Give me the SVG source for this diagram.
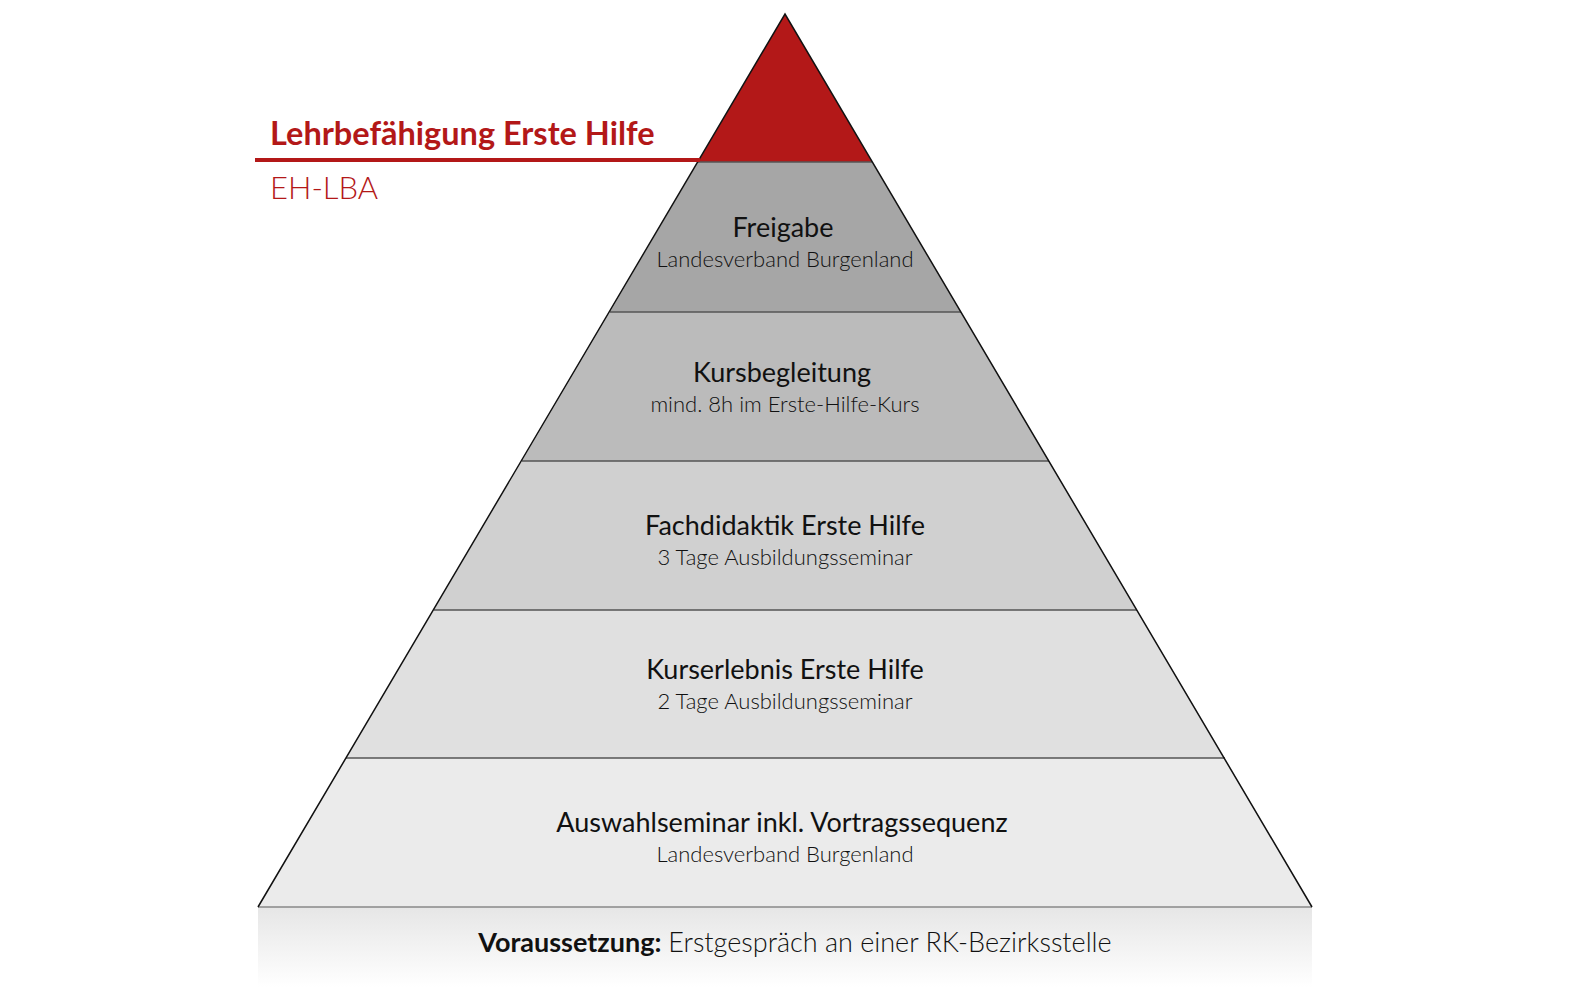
<svg xmlns="http://www.w3.org/2000/svg" width="1580" height="1000" viewBox="0 0 1580 1000">
<defs>
<linearGradient id="fade" x1="0" y1="0" x2="0" y2="1">
<stop offset="0" stop-color="#e6e6e6"/>
<stop offset="1" stop-color="#ffffff"/>
</linearGradient>
<style>
.lvl{stroke:none}
.div{stroke:#555;stroke-width:1.5}
.t{font-family:Lato,"Open Sans","Liberation Sans",sans-serif;font-size:27px;fill:#111;text-anchor:middle}
.s{font-family:Lato,"Open Sans","Liberation Sans",sans-serif;font-size:22px;fill:#111;text-anchor:middle;font-weight:300}
.f{font-family:Lato,"Open Sans","Liberation Sans",sans-serif;font-size:27px;fill:#111;text-anchor:middle}
.red{fill:#b31818}
</style>
</defs>
<rect width="1580" height="1000" fill="#fff"/>
<rect x="258" y="907" width="1054" height="80" fill="url(#fade)"/>
<g id="level-top"><polygon class="lvl" points="785,14 698,162 872,162" fill="#b31818"/></g>
<g id="level-freigabe"><polygon class="lvl" points="698,162 872,162 961,312 610,312" fill="#a6a6a6"/>
<text class="t" x="783" y="237">Freigabe</text><text class="s" x="785" y="267">Landesverband Burgenland</text></g>
<g id="level-kursbegleitung"><polygon class="lvl" points="610,312 961,312 1049,461 522,461" fill="#bbbbbb"/>
<text class="t" x="782" y="382">Kursbegleitung</text><text class="s" x="785" y="412">mind. 8h im Erste-Hilfe-Kurs</text></g>
<g id="level-fachdidaktik"><polygon class="lvl" points="522,461 1049,461 1137,610 434,610" fill="#d0d0d0"/>
<text class="t" x="785" y="535">Fachdidaktik Erste Hilfe</text><text class="s" x="785" y="565">3 Tage Ausbildungsseminar</text></g>
<g id="level-kurserlebnis"><polygon class="lvl" points="434,610 1137,610 1225,758 346,758" fill="#e0e0e0"/>
<text class="t" x="785" y="679">Kurserlebnis Erste Hilfe</text><text class="s" x="785" y="709">2 Tage Ausbildungsseminar</text></g>
<g id="level-auswahl"><polygon class="lvl" points="346,758 1225,758 1312,907 258,907" fill="#ebebeb"/>
<text class="t" x="782" y="832">Auswahlseminar inkl. Vortragssequenz</text><text class="s" x="785" y="862">Landesverband Burgenland</text></g>
<g id="connectors">
<line class="div" x1="698" y1="162" x2="872" y2="162"/>
<line class="div" x1="610" y1="312" x2="961" y2="312"/>
<line class="div" x1="522" y1="461" x2="1049" y2="461"/>
<line class="div" x1="434" y1="610" x2="1137" y2="610"/>
<line class="div" x1="346" y1="758" x2="1225" y2="758"/>
<line x1="258" y1="907" x2="1312" y2="907" stroke="#888" stroke-width="1.5"/>
<polyline points="258,907 785,14 1312,907" fill="none" stroke="#111" stroke-width="1.5"/>
<line x1="255" y1="160" x2="700" y2="160" stroke="#b31818" stroke-width="4"/>
</g>
<g id="title">
<text x="270" y="145" font-family="Lato,'Open Sans','Liberation Sans',sans-serif" font-size="32.5" font-weight="bold" class="red">Lehrbefähigung Erste Hilfe</text>
<text x="270" y="199" font-family="Lato,'Open Sans','Liberation Sans',sans-serif" font-size="31" font-weight="300" class="red">EH-LBA</text>
</g>
<g id="footer">
<text class="f" x="795" y="952"><tspan font-weight="bold">Voraussetzung:</tspan> <tspan font-weight="300">Erstgespräch an einer RK-Bezirksstelle</tspan></text>
</g>
</svg>
